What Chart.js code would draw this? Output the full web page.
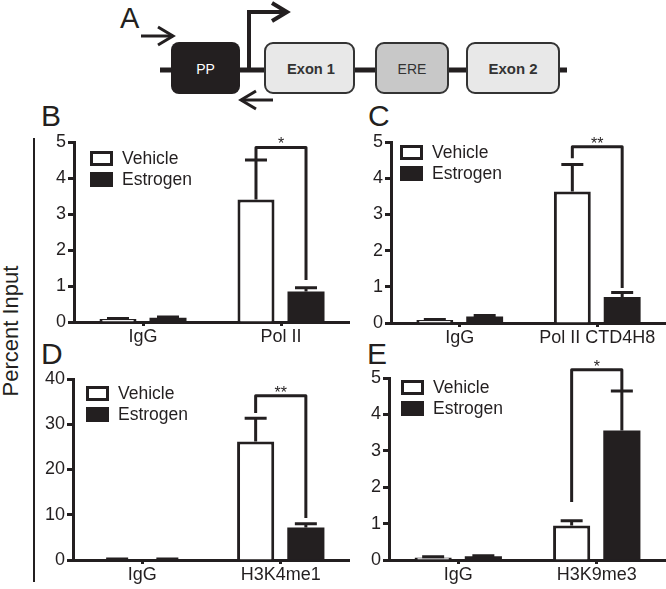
<!DOCTYPE html>
<html>
<head>
<meta charset="utf-8">
<script src="https://cdn.jsdelivr.net/npm/chart.js@4.4.1/dist/chart.umd.min.js"></script>
<style>
  body { margin: 0; background: #fff; width: 666px; height: 589px; position: relative; overflow: hidden;
         font-family: 'Liberation Sans', Arial, Helvetica, sans-serif; color: #231f20; }
  canvas { position: absolute; }
  .letter { position: absolute; font-size: 30px; line-height: 30px; }
  #yTitle { position: absolute; left: -89px; top: 320px; width: 200px; text-align: center;
            font-size: 22px; line-height: 22px; transform: rotate(-90deg); }
  #yRule { position: absolute; left: 33px; top: 138px; width: 2px; height: 444px; background: #231f20; }
</style>
</head>
<body>

<!-- gene map, panel A -->
<svg width="666" height="120" style="position:absolute;left:0;top:0">
  <g stroke="#231f20" fill="none">
    <line x1="160" y1="70" x2="567" y2="70" stroke-width="5"/>
    <polyline points="249,70 249,12 287,12" stroke-width="4"/>
    <polyline points="272,3 287,12 272,21" stroke-width="4"/>
    <line x1="141" y1="36" x2="173" y2="36" stroke-width="3"/>
    <polyline points="158,27 173,36 158,45" stroke-width="3"/>
    <line x1="241" y1="100" x2="273" y2="100" stroke-width="3"/>
    <polyline points="256,91 241,100 256,109" stroke-width="3"/>
  </g>
  <rect x="171" y="42" width="69" height="52" rx="8" fill="#231f20"/>
  <rect x="265" y="43" width="89" height="50" rx="8" fill="#e8e8e8" stroke="#333" stroke-width="2"/>
  <rect x="376" y="43" width="72" height="50" rx="8" fill="#c8c8c8" stroke="#333" stroke-width="2"/>
  <rect x="467" y="43" width="92" height="50" rx="8" fill="#e8e8e8" stroke="#333" stroke-width="2"/>
  <g font-family="'Liberation Sans', Arial, sans-serif" font-size="14" text-anchor="middle">
    <text x="205.5" y="74" fill="#fff">PP</text>
    <text x="311" y="74" fill="#333" font-weight="bold" textLength="48" lengthAdjust="spacingAndGlyphs">Exon 1</text>
    <text x="412" y="74" fill="#333">ERE</text>
    <text x="513" y="74" fill="#333" font-weight="bold" textLength="49" lengthAdjust="spacingAndGlyphs">Exon 2</text>
  </g>
</svg>

<div class="letter" style="left:120px;top:3px;font-size:29px">A</div>
<div class="letter" style="left:41px;top:101px">B</div>
<div class="letter" style="left:368px;top:101px">C</div>
<div class="letter" style="left:41px;top:339px">D</div>
<div class="letter" style="left:367px;top:339px">E</div>

<div id="yTitle">Percent Input</div>
<div id="yRule"></div>

<canvas id="chartB"></canvas>
<canvas id="chartC"></canvas>
<canvas id="chartD"></canvas>
<canvas id="chartE"></canvas>

<script>
/* ── data ── */
const seriesNames = ['Vehicle', 'Estrogen'];

// B: Pol II
const labelsB     = ['IgG', 'Pol II'];
const vehicleB    = [0.08, 3.4];
const vehicleErrB = [0.02, 1.1];
const estrogenB   = [0.12, 0.85];
const estrogenErrB= [0.02, 0.1];
const bracketB    = [4.85, 4.5, 1.17];   // top, left leg end, right leg end
const starsB      = '*';

// C: Pol II CTD4H8
const labelsC     = ['IgG', 'Pol II CTD4H8'];
const vehicleC    = [0.08, 3.63];
const vehicleErrC = [0.02, 0.75];
const estrogenC   = [0.18, 0.72];
const estrogenErrC= [0.03, 0.12];
const bracketC    = [4.87, 4.55, 0.97];
const starsC      = '**';

// D: H3K4me1
const labelsD     = ['IgG', 'H3K4me1'];
const vehicleD    = [0.15, 26.2];
const vehicleErrD = [0.05, 5.1];
const estrogenD   = [0.15, 7.2];
const estrogenErrD= [0.05, 0.8];
const bracketD    = [36.3, 32.5, 9.3];
const starsD      = '**';

// E: H3K9me3
const labelsE     = ['IgG', 'H3K9me3'];
const vehicleE    = [0.07, 0.95];
const vehicleErrE = [0.02, 0.13];
const estrogenE   = [0.1, 3.56];
const estrogenErrE= [0.02, 1.08];
const bracketE    = [5.23, 1.59, 4.64];
const starsE      = '*';

const yTicks5  = [0, 5, 1];   // min, max, step
const yTicks40 = [0, 40, 10];

/* ── style ── */
const INK = '#231f20';
const FONT = "'Liberation Sans', Arial, Helvetica, sans-serif";
const AXIS_W = 50;   // room for y tick labels
const PAD_TOP = 30;  // room for brackets
const XAXIS_H = 30;  // room for category labels

Chart.defaults.font.family = FONT;
Chart.defaults.color = INK;

/* error bars, significance bracket, inset legend */
const panelDecor = {
  id: 'panelDecor',
  afterDatasetsDraw(chart, args, opts) {
    const ctx = chart.ctx;
    const y = chart.scales.y;
    ctx.save();
    ctx.strokeStyle = INK;
    ctx.lineWidth = 3;

    // one-sided (upper) error bars
    opts.errors.forEach((errs, di) => {
      const vals = chart.data.datasets[di].data;
      chart.getDatasetMeta(di).data.forEach((bar, i) => {
        const tip = y.getPixelForValue(vals[i] + errs[i]);
        ctx.beginPath();
        ctx.moveTo(bar.x, bar.y);
        ctx.lineTo(bar.x, tip);
        ctx.moveTo(bar.x - 11, tip);
        ctx.lineTo(bar.x + 11, tip);
        ctx.stroke();
      });
    });

    // bracket over the second category
    const [top, leftEnd, rightEnd] = opts.bracket;
    const xl = chart.getDatasetMeta(0).data[1].x;
    const xr = chart.getDatasetMeta(1).data[1].x;
    const yt = y.getPixelForValue(top);
    ctx.lineJoin = 'round';
    ctx.beginPath();
    ctx.moveTo(xl, y.getPixelForValue(leftEnd));
    ctx.lineTo(xl, yt);
    ctx.lineTo(xr, yt);
    ctx.lineTo(xr, y.getPixelForValue(rightEnd));
    ctx.stroke();

    ctx.fillStyle = INK;
    ctx.font = '16px ' + FONT;
    ctx.textAlign = 'center';
    ctx.textBaseline = 'alphabetic';
    ctx.fillText(opts.stars, (xl + xr) / 2, yt + 2);
    ctx.restore();
  },
  afterDraw(chart, args, opts) {
    const ctx = chart.ctx;
    const x0 = chart.chartArea.left + opts.legendAt[0];
    ctx.save();
    ctx.font = '17.5px ' + FONT;
    ctx.textBaseline = 'middle';
    ctx.textAlign = 'left';
    chart.data.datasets.forEach((ds, i) => {
      const yTop = chart.chartArea.top + opts.legendAt[1] + i * 21;
      ctx.fillStyle = ds.backgroundColor;
      ctx.fillRect(x0, yTop, 23, 15);
      if (ds.borderWidth) {
        ctx.strokeStyle = ds.borderColor;
        ctx.lineWidth = 3;
        ctx.strokeRect(x0 + 1.5, yTop + 1.5, 20, 12);
      }
      ctx.fillStyle = INK;
      ctx.fillText(ds.label, x0 + 32, yTop + 8);
    });
    ctx.restore();
  }
};

function buildPanel(p) {
  const cv = document.getElementById(p.id);
  const a = p.area;
  cv.width  = a.right - a.left + AXIS_W;
  cv.height = a.bottom - a.top + PAD_TOP + XAXIS_H;
  cv.style.left = (a.left - AXIS_W) + 'px';
  cv.style.top  = (a.top - PAD_TOP) + 'px';

  return new Chart(cv, {
    type: 'bar',
    data: {
      labels: p.labels,
      datasets: [
        { label: seriesNames[0], data: p.vehicle, backgroundColor: '#ffffff',
          borderColor: INK, borderWidth: 3 },
        { label: seriesNames[1], data: p.estrogen, backgroundColor: INK,
          borderColor: INK, borderWidth: 0 }
      ]
    },
    options: {
      responsive: false,
      devicePixelRatio: 1,
      animation: false,
      categoryPercentage: 0.725,
      barPercentage: 0.74,
      layout: { padding: { top: PAD_TOP, left: 0, right: 0, bottom: 0 } },
      plugins: {
        legend: { display: false },
        tooltip: { enabled: false },
        panelDecor: {
          errors: [p.vehicleErr, p.estrogenErr],
          bracket: p.bracket,
          stars: p.stars,
          legendAt: p.legendAt
        }
      },
      scales: {
        x: {
          z: 1,
          afterFit: s => { s.height = XAXIS_H; },
          grid: { offset: false, drawOnChartArea: false, tickLength: 4, tickWidth: 3, tickColor: INK },
          border: { display: true, color: INK, width: 3 },
          ticks: { font: { size: 18 }, color: INK, padding: 0, maxRotation: 0 }
        },
        y: {
          z: 1,
          min: p.yScale[0], max: p.yScale[1],
          afterFit: s => { s.width = AXIS_W; },
          grid: { drawOnChartArea: false, tickLength: 6, tickWidth: 3, tickColor: INK },
          border: { display: true, color: INK, width: 3 },
          ticks: { stepSize: p.yScale[2], font: { size: 18 }, color: INK, padding: 2 }
        }
      }
    },
    plugins: [panelDecor]
  });
}

buildPanel({ id: 'chartB', area: { left: 74, top: 142, right: 350, bottom: 322 },
  labels: labelsB, vehicle: vehicleB, vehicleErr: vehicleErrB, estrogen: estrogenB, estrogenErr: estrogenErrB,
  bracket: bracketB, stars: starsB, yScale: yTicks5, legendAt: [16, 9] });

buildPanel({ id: 'chartC', area: { left: 391, top: 142, right: 666, bottom: 323 },
  labels: labelsC, vehicle: vehicleC, vehicleErr: vehicleErrC, estrogen: estrogenC, estrogenErr: estrogenErrC,
  bracket: bracketC, stars: starsC, yScale: yTicks5, legendAt: [9, 3] });

buildPanel({ id: 'chartD', area: { left: 73, top: 379, right: 350, bottom: 560 },
  labels: labelsD, vehicle: vehicleD, vehicleErr: vehicleErrD, estrogen: estrogenD, estrogenErr: estrogenErrD,
  bracket: bracketD, stars: starsD, yScale: yTicks40, legendAt: [13, 7] });

buildPanel({ id: 'chartE', area: { left: 389, top: 378, right: 666, bottom: 560 },
  labels: labelsE, vehicle: vehicleE, vehicleErr: vehicleErrE, estrogen: estrogenE, estrogenErr: estrogenErrE,
  bracket: bracketE, stars: starsE, yScale: yTicks5, legendAt: [12, 2] });
</script>
</body>
</html>
